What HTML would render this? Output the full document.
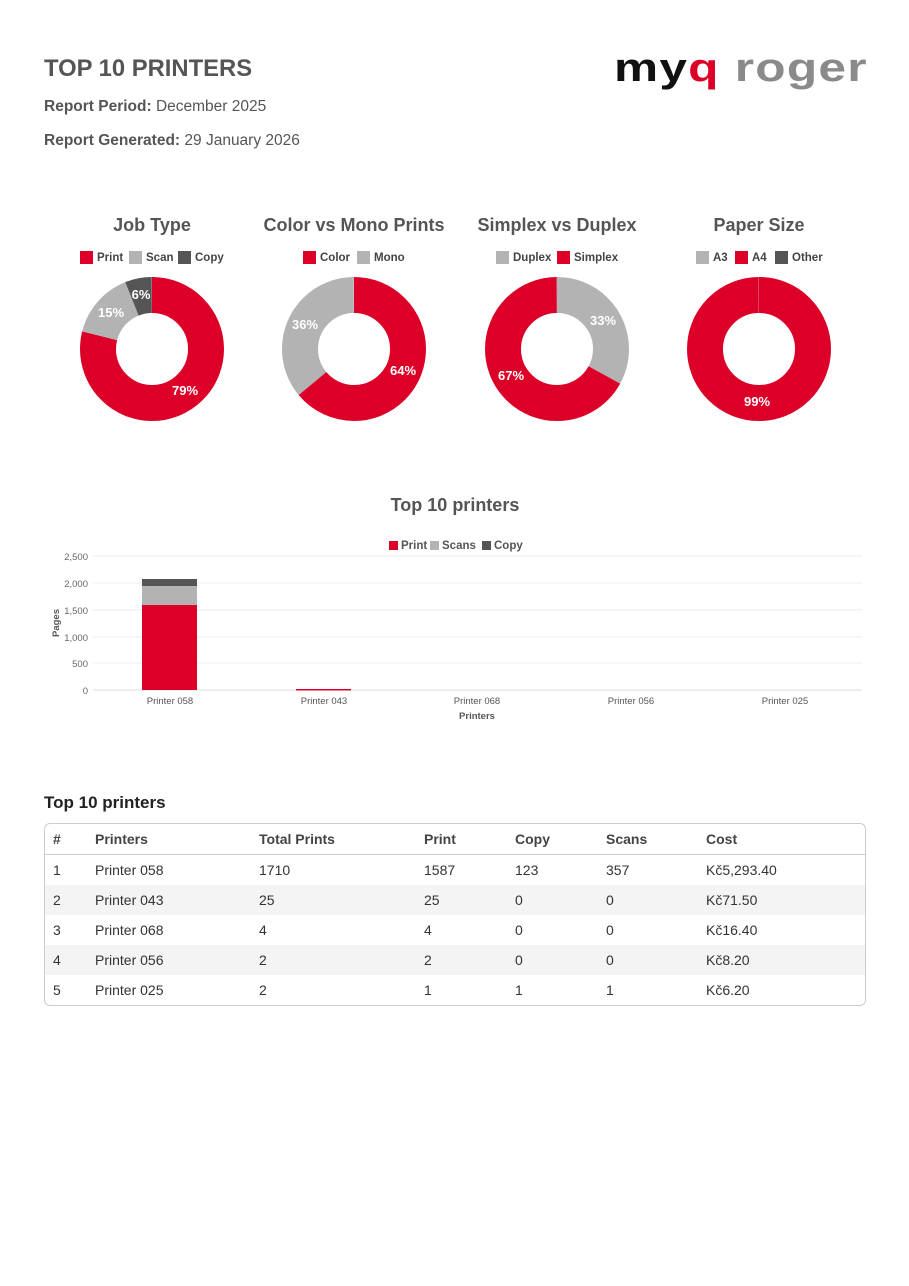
<!DOCTYPE html>
<html><head><meta charset="utf-8"><style>
body{margin:0;width:909px;height:1286px;background:#fff;font-family:"Liberation Sans",sans-serif;position:relative;color:#444}
.a{position:absolute}
h1{position:absolute;left:44px;top:55px;margin:0;font-size:23.8px;color:#555;font-weight:bold}
.m{font-size:15.5px;color:#555}
table{border-collapse:collapse;width:100%;font-size:14px;color:#333}
td,th{height:30px;padding:0;text-align:left}
th{font-weight:bold;height:30px;border-bottom:1px solid #ccc;color:#444}
tr.g td{background:#f4f4f4}
</style></head><body>
<h1>TOP 10 PRINTERS</h1>
<div class="a m" style="left:44px;top:98px"><b>Report Period:</b> December 2025</div>
<div class="a m" style="left:44px;top:132px"><b>Report Generated:</b> 29 January 2026</div>
<div class="a" style="left:614px;top:46px;font-size:40px;font-weight:bold;letter-spacing:1px;line-height:44px;transform:scaleX(1.24);transform-origin:0 0;white-space:nowrap"><span style="color:#111">my</span><span style="color:#dc0028">q</span> <span style="color:#8a8a8a">roger</span></div>

<svg class="a" style="left:0;top:200px" width="909" height="240" font-family="Liberation Sans,sans-serif">
<g font-size="18" font-weight="bold" fill="#555" text-anchor="middle">
<text x="152" y="31">Job Type</text><text x="354" y="31">Color vs Mono Prints</text><text x="557" y="31">Simplex vs Duplex</text><text x="759" y="31">Paper Size</text></g>
<g font-size="11.5" font-weight="bold" fill="#444">
<rect x="80" y="51" width="13" height="13" fill="#dc0028"/><text x="97" y="61">Print</text>
<rect x="129" y="51" width="13" height="13" fill="#b3b3b3"/><text x="146" y="61">Scan</text>
<rect x="178" y="51" width="13" height="13" fill="#555"/><text x="195" y="61">Copy</text>
<rect x="303" y="51" width="13" height="13" fill="#dc0028"/><text x="320" y="61">Color</text>
<rect x="357" y="51" width="13" height="13" fill="#b3b3b3"/><text x="374" y="61">Mono</text>
<rect x="496" y="51" width="13" height="13" fill="#b3b3b3"/><text x="513" y="61">Duplex</text>
<rect x="557" y="51" width="13" height="13" fill="#dc0028"/><text x="574" y="61">Simplex</text>
<rect x="696" y="51" width="13" height="13" fill="#b3b3b3"/><text x="713" y="61">A3</text>
<rect x="735" y="51" width="13" height="13" fill="#dc0028"/><text x="752" y="61">A4</text>
<rect x="775" y="51" width="13" height="13" fill="#555"/><text x="792" y="61">Other</text>
</g>
<g fill="none" stroke-width="36">
<g transform="translate(152,149) rotate(-90)">
<circle r="54" stroke="#dc0028" pathLength="100" stroke-dasharray="79 100"/>
<circle r="54" stroke="#b3b3b3" pathLength="100" stroke-dasharray="15 100" stroke-dashoffset="-79"/>
<circle r="54" stroke="#555" pathLength="100" stroke-dasharray="6 100" stroke-dashoffset="-94"/></g>
<g transform="translate(354,149) rotate(-90)">
<circle r="54" stroke="#dc0028" pathLength="100" stroke-dasharray="64 100"/>
<circle r="54" stroke="#b3b3b3" pathLength="100" stroke-dasharray="36 100" stroke-dashoffset="-64"/></g>
<g transform="translate(557,149) rotate(-90)">
<circle r="54" stroke="#b3b3b3" pathLength="100" stroke-dasharray="33 100"/>
<circle r="54" stroke="#dc0028" pathLength="100" stroke-dasharray="67 100" stroke-dashoffset="-33"/></g>
<g transform="translate(759,149) rotate(-90)">
<circle r="54" stroke="#dc0028" pathLength="100" stroke-dasharray="100 100"/>
<circle r="54" stroke="#b3b3b3" pathLength="100" stroke-dasharray="0.8 100" stroke-dashoffset="0.8"/></g>
</g>
<g font-size="13" font-weight="bold" fill="#fff" text-anchor="middle">
<text x="185" y="195">79%</text><text x="111" y="117">15%</text><text x="141" y="99">6%</text>
<text x="403" y="175">64%</text><text x="305" y="129">36%</text>
<text x="603" y="125">33%</text><text x="511" y="180">67%</text>
<text x="757" y="206">99%</text></g>
</svg>

<svg class="a" style="left:0;top:490px" width="909" height="240" font-family="Liberation Sans,sans-serif">
<text x="455" y="21" font-size="18" font-weight="bold" fill="#555" text-anchor="middle">Top 10 printers</text>
<g font-size="11.5" font-weight="bold" fill="#555">
<rect x="389" y="51" width="9" height="9" fill="#dc0028"/><text x="401" y="59">Print</text>
<rect x="430" y="51" width="9" height="9" fill="#b3b3b3"/><text x="442" y="59">Scans</text>
<rect x="482" y="51" width="9" height="9" fill="#555"/><text x="494" y="59">Copy</text></g>
<g stroke="#eee"><line x1="93" x2="862" y1="66" y2="66"/><line x1="93" x2="862" y1="93" y2="93"/><line x1="93" x2="862" y1="120" y2="120"/><line x1="93" x2="862" y1="147" y2="147"/><line x1="93" x2="862" y1="173" y2="173"/></g>
<line x1="93" x2="862" y1="200" y2="200" stroke="#ddd"/>
<g font-size="9.5" fill="#666" text-anchor="end"><text x="88" y="70">2,500</text><text x="88" y="97">2,000</text><text x="88" y="124">1,500</text><text x="88" y="151">1,000</text><text x="88" y="177">500</text><text x="88" y="204">0</text></g>
<text transform="translate(59,133) rotate(-90)" font-size="9.5" font-weight="bold" fill="#555" text-anchor="middle">Pages</text>
<rect x="142" y="115" width="55" height="85" fill="#dc0028"/>
<rect x="142" y="96" width="55" height="19" fill="#b3b3b3"/>
<rect x="142" y="89" width="55" height="7" fill="#555"/>
<rect x="296" y="199" width="55" height="1.5" fill="#dc0028"/>
<g font-size="9.5" fill="#555" text-anchor="middle"><text x="170" y="214">Printer 058</text><text x="324" y="214">Printer 043</text><text x="477" y="214">Printer 068</text><text x="631" y="214">Printer 056</text><text x="785" y="214">Printer 025</text></g>
<text x="477" y="229" font-size="9.5" font-weight="bold" fill="#555" text-anchor="middle">Printers</text>
</svg>

<div class="a" style="left:44px;top:793px;font-size:17px;font-weight:bold;color:#222">Top 10 printers</div>
<div class="a" style="left:44px;top:823px;width:820px;border:1px solid #ccc;border-radius:6px;overflow:hidden">
<table><colgroup><col style="width:50px"><col style="width:164px"><col style="width:165px"><col style="width:91px"><col style="width:91px"><col style="width:100px"><col></colgroup>
<tr><th style="padding-left:8px">#</th><th>Printers</th><th>Total Prints</th><th>Print</th><th>Copy</th><th>Scans</th><th>Cost</th></tr>
<tr><td style="padding-left:8px">1</td><td>Printer 058</td><td>1710</td><td>1587</td><td>123</td><td>357</td><td>Kč5,293.40</td></tr>
<tr class="g"><td style="padding-left:8px">2</td><td>Printer 043</td><td>25</td><td>25</td><td>0</td><td>0</td><td>Kč71.50</td></tr>
<tr><td style="padding-left:8px">3</td><td>Printer 068</td><td>4</td><td>4</td><td>0</td><td>0</td><td>Kč16.40</td></tr>
<tr class="g"><td style="padding-left:8px">4</td><td>Printer 056</td><td>2</td><td>2</td><td>0</td><td>0</td><td>Kč8.20</td></tr>
<tr><td style="padding-left:8px">5</td><td>Printer 025</td><td>2</td><td>1</td><td>1</td><td>1</td><td>Kč6.20</td></tr>
</table></div>
</body></html>
